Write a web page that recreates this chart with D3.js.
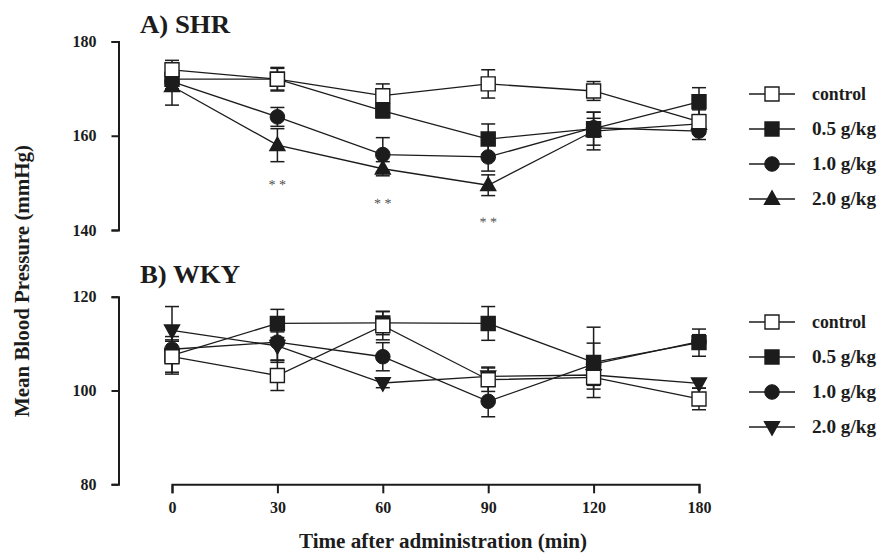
<!DOCTYPE html>
<html><head><meta charset="utf-8">
<script src="https://cdn.jsdelivr.net/npm/d3@7"></script>
<style>
body{margin:0;background:#fff;}
</style></head>
<body><svg id="c" width="877" height="553"></svg>
<script>
const times = ["0","30","60","90","120","180"];
const seriesNames = ["control","0.5 g/kg","1.0 g/kg","2.0 g/kg"];

// A) SHR
const shrControl = [174.0, 172.0, 168.5, 171.0, 169.5, 163.0];
const shr05      = [172.0, 172.0, 165.3, 159.3, 161.5, 167.2];
const shr10      = [171.5, 164.0, 156.0, 155.5, 161.7, 161.0];
const shr20      = [170.5, 158.0, 153.0, 149.5, 161.0, 162.5];
const shrControlErr = [2.0, 2.5, 2.5, 3.0, 2.0, 2.5];
const shr05Err      = [2.0, 2.3, 1.5, 3.2, 3.5, 3.0];
const shr10Err      = [2.0, 2.0, 3.6, 3.0, 2.0, 1.8];
const shr20Err      = [4.0, 3.5, 1.5, 2.2, 4.0, 2.0];
const shrSigTimes = ["30","60","90"];
const shrSigY     = [150.3, 146.3, 142.3];

// B) WKY
const wkyControl = [107.2, 103.2, 113.8, 102.3, 102.8, 98.2];
const wky05      = [107.5, 114.3, 114.4, 114.3, 106.0, 110.2];
const wky10      = [108.8, 110.3, 107.2, 97.7, 105.6, 110.4];
const wky20      = [112.8, 109.5, 101.6, 103.0, 103.3, 101.5];
const wkyControlErr = [3.3, 3.2, 3.0, 2.5, 2.5, 2.3];
const wky05Err      = [4.0, 3.0, 2.5, 3.6, 7.5, 2.9];
const wky10Err      = [2.0, 4.3, 3.0, 3.3, 4.5, 1.5];
const wky20Err      = [5.1, 3.0, 1.0, 2.0, 2.0, 1.0];

const yTicksA = [140, 160, 180];
const yTicksB = [80, 100, 120];

const FONT = "Liberation Serif";
const svg = d3.select("#c");
const ink = "#1c1c1c";

const x = d3.scalePoint().domain(times).range([172, 699]);
const yA = d3.scaleLinear().domain([140, 180]).range([230, 41.5]);
const yB = d3.scaleLinear().domain([80, 120]).range([484.3, 296.7]);

function symPath(type, s) {
  if (type === "square") return `M${-s/2},${-s/2}H${s/2}V${s/2}H${-s/2}Z`;
  const h = s * 0.9;
  if (type === "tri") return `M0,${-h*0.6}L${s/2},${h*0.4}L${-s/2},${h*0.4}Z`;
  return `M0,${h*0.6}L${s/2},${-h*0.4}L${-s/2},${-h*0.4}Z`;
}
function marker(g, type, filled, cx, cy) {
  if (type === "circle") {
    g.append("circle").attr("cx", cx).attr("cy", cy).attr("r", 7.3)
      .attr("fill", ink).attr("stroke", ink).attr("stroke-width", 1);
  } else {
    g.append("path").attr("d", symPath(type, type === "square" ? 14 : 15))
      .attr("transform", `translate(${cx},${cy})`)
      .attr("fill", filled ? ink : "#fff").attr("stroke", ink).attr("stroke-width", 1.4);
  }
}

function panel(y, means, errs, types, fills, ticks, title, titleY, legendY0, sig) {
  const g = svg.append("g");
  const ax = g.append("g").attr("transform", "translate(118.5,0)")
    .call(d3.axisLeft(y).tickValues(ticks).tickSize(7).tickSizeOuter(7).tickPadding(15).tickFormat(d3.format("d")));
  ax.attr("font-family", FONT);
  ax.selectAll("path,line").attr("stroke", ink).attr("stroke-width", 2);
  ax.selectAll("text").attr("font-family", FONT).attr("font-size", 16).attr("font-weight", "bold").attr("fill", ink);

  g.append("text").attr("x", 140).attr("y", titleY).attr("font-family", FONT)
    .attr("font-size", 25).attr("font-weight", "bold").attr("fill", ink)
    .attr("textLength", title.startsWith("A") ? 90 : 100).attr("lengthAdjust", "spacingAndGlyphs")
    .text(title);

  const line = d3.line().x((d, i) => x(times[i])).y(d => y(d));
  means.forEach(m => {
    g.append("path").datum(m).attr("d", line).attr("fill", "none").attr("stroke", ink).attr("stroke-width", 1.3);
  });
  for (let s = means.length - 1; s >= 0; s--) {
    const eg = g.append("g");
    means[s].forEach((v, i) => {
      const cx = x(times[i]), e = errs[s][i];
      eg.append("line").attr("x1", cx).attr("x2", cx).attr("y1", y(v - e)).attr("y2", y(v + e))
        .attr("stroke", ink).attr("stroke-width", 1.5);
      [v - e, v + e].forEach(w => eg.append("line").attr("x1", cx - 7).attr("x2", cx + 7)
        .attr("y1", y(w)).attr("y2", y(w)).attr("stroke", ink).attr("stroke-width", 1.5));
    });
  }
  for (let s = means.length - 1; s >= 0; s--) {
    means[s].forEach((v, i) => marker(g, types[s], fills[s], x(times[i]), y(v)));
  }
  if (sig) {
    sig.t.forEach((t, i) => {
      const px = x(t), py = y(sig.v[i]);
      g.append("text").attr("x", px).attr("y", py).attr("dy", "0.55em")
        .attr("transform", `rotate(0.2,${px},${py})`)
        .attr("text-anchor", "middle").attr("font-family", FONT).attr("font-size", 14)
        .attr("fill", "#555").text("* *");
    });
  }
  const lw = [54, 64, 64, 64];
  seriesNames.forEach((n, i) => {
    const ly = legendY0 + i * 35;
    g.append("line").attr("x1", 749).attr("x2", 795).attr("y1", ly).attr("y2", ly)
      .attr("stroke", ink).attr("stroke-width", 1.3);
    marker(g, types[i], fills[i], 772, ly);
    g.append("text").attr("x", 812).attr("y", ly).attr("dy", "0.33em").attr("font-family", FONT)
      .attr("font-size", 18).attr("font-weight", "bold").attr("fill", ink)
      .attr("textLength", lw[i]).attr("lengthAdjust", "spacingAndGlyphs").text(n);
  });
}

panel(yA, [shrControl, shr05, shr10, shr20], [shrControlErr, shr05Err, shr10Err, shr20Err],
  ["square","square","circle","tri"], [false,true,true,true], yTicksA, "A) SHR", 32.5, 94,
  {t: shrSigTimes, v: shrSigY});
panel(yB, [wkyControl, wky05, wky10, wky20], [wkyControlErr, wky05Err, wky10Err, wky20Err],
  ["square","square","circle","tridown"], [false,true,true,true], yTicksB, "B) WKY", 282.5, 322, null);

const xa = svg.append("g").attr("transform", "translate(0,484.3)")
  .call(d3.axisBottom(x).tickSize(9).tickSizeOuter(9).tickPadding(8));
xa.attr("font-family", FONT);
xa.selectAll("path,line").attr("stroke", ink).attr("stroke-width", 2);
xa.selectAll("text").attr("font-family", FONT).attr("font-size", 16).attr("font-weight", "bold").attr("fill", ink);

svg.append("text").attr("transform", "translate(29,281) rotate(-90)").attr("text-anchor", "middle")
  .attr("font-family", FONT).attr("font-size", 20).attr("font-weight", "bold").attr("fill", ink)
  .attr("textLength", 272).attr("lengthAdjust", "spacingAndGlyphs").text("Mean Blood Pressure (mmHg)");
svg.append("text").attr("x", 443).attr("y", 548).attr("text-anchor", "middle")
  .attr("font-family", FONT).attr("font-size", 20).attr("font-weight", "bold").attr("fill", ink)
  .attr("textLength", 288).attr("lengthAdjust", "spacingAndGlyphs").text("Time after administration (min)");
</script></body></html>
